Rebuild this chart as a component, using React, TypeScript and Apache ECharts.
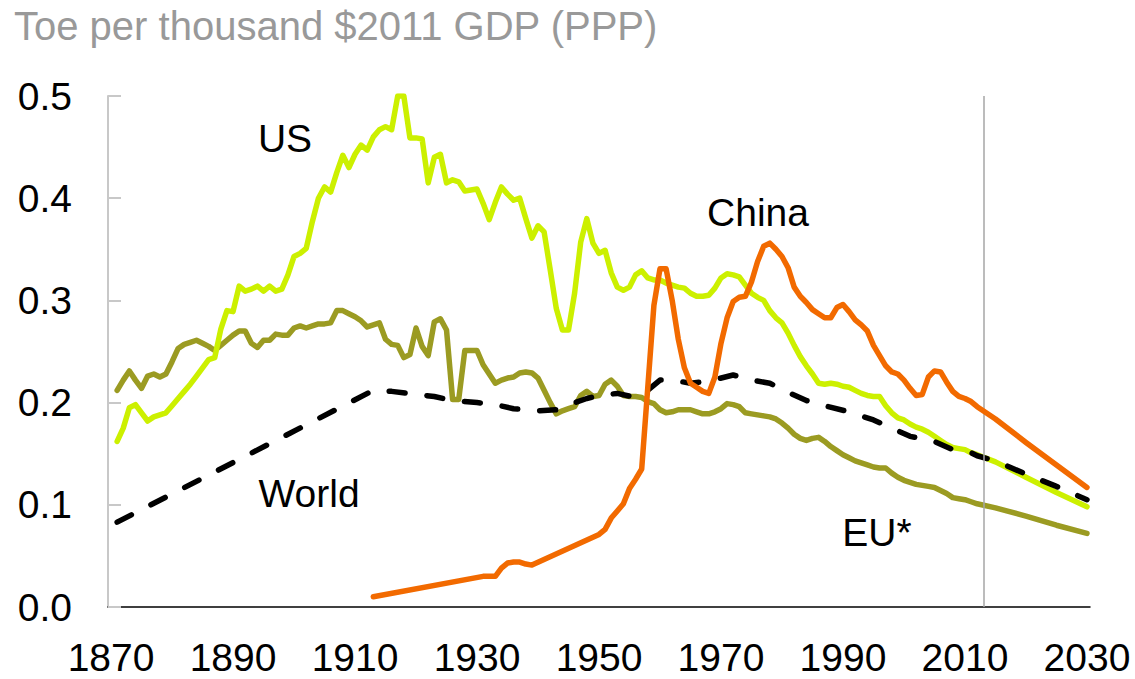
import React, { useEffect, useRef } from "react";
import * as echarts from "echarts";

const TITLE = "Toe per thousand $2011 GDP (PPP)";
const FIRST_YEAR = 1870;
const LAST_YEAR = 2030;
const YEARS: string[] = [];
for (let y = FIRST_YEAR; y <= LAST_YEAR; y++) YEARS.push(String(y));
const Y_TICKS = [0, 0.1, 0.2, 0.3, 0.4, 0.5];
const HISTORY_END = "2013";

const US: [number, number][] = [
  [1871, 0.162], [1872, 0.175], [1873, 0.195], [1874, 0.198], [1875, 0.19], [1876, 0.182], [1877, 0.186], [1878, 0.188], [1879, 0.19], [1880, 0.197],
  [1881, 0.204], [1882, 0.211], [1883, 0.218], [1884, 0.226], [1885, 0.234], [1886, 0.242], [1887, 0.244], [1888, 0.272], [1889, 0.29], [1890, 0.289],
  [1891, 0.314], [1892, 0.309], [1893, 0.311], [1894, 0.314], [1895, 0.309], [1896, 0.314], [1897, 0.309], [1898, 0.311], [1899, 0.325], [1900, 0.343],
  [1901, 0.346], [1902, 0.351], [1903, 0.377], [1904, 0.4], [1905, 0.411], [1906, 0.406], [1907, 0.425], [1908, 0.442], [1909, 0.43], [1910, 0.443],
  [1911, 0.452], [1912, 0.447], [1913, 0.46], [1914, 0.467], [1915, 0.47], [1916, 0.467], [1917, 0.5], [1918, 0.5], [1919, 0.459], [1920, 0.459],
  [1921, 0.458], [1922, 0.415], [1923, 0.44], [1924, 0.443], [1925, 0.415], [1926, 0.418], [1927, 0.416], [1928, 0.407], [1929, 0.408], [1930, 0.409],
  [1931, 0.395], [1932, 0.379], [1933, 0.396], [1934, 0.411], [1935, 0.404], [1936, 0.398], [1937, 0.4], [1938, 0.38], [1939, 0.361], [1940, 0.373],
  [1941, 0.367], [1942, 0.33], [1943, 0.292], [1944, 0.271], [1945, 0.271], [1946, 0.307], [1947, 0.357], [1948, 0.38], [1949, 0.356], [1950, 0.346],
  [1951, 0.349], [1952, 0.327], [1953, 0.313], [1954, 0.31], [1955, 0.313], [1956, 0.325], [1957, 0.329], [1958, 0.322], [1959, 0.32], [1960, 0.32],
  [1961, 0.317], [1962, 0.315], [1963, 0.313], [1964, 0.312], [1965, 0.307], [1966, 0.304], [1967, 0.304], [1968, 0.305], [1969, 0.312], [1970, 0.322],
  [1971, 0.326], [1972, 0.325], [1973, 0.323], [1974, 0.315], [1975, 0.307], [1976, 0.303], [1977, 0.3], [1978, 0.29], [1979, 0.283], [1980, 0.278],
  [1981, 0.268], [1982, 0.256], [1983, 0.245], [1984, 0.236], [1985, 0.228], [1986, 0.219], [1987, 0.218], [1988, 0.219], [1989, 0.218], [1990, 0.216],
  [1991, 0.215], [1992, 0.212], [1993, 0.209], [1994, 0.207], [1995, 0.206], [1996, 0.206], [1997, 0.197], [1998, 0.19], [1999, 0.185], [2000, 0.183],
  [2001, 0.179], [2002, 0.176], [2003, 0.174], [2004, 0.171], [2005, 0.167], [2006, 0.163], [2007, 0.159], [2008, 0.156], [2009, 0.155], [2010, 0.154],
  [2011, 0.151], [2012, 0.149], [2015, 0.142], [2020, 0.127], [2025, 0.112], [2030, 0.098],
];

const EU: [number, number][] = [
  [1871, 0.212], [1872, 0.222], [1873, 0.231], [1874, 0.222], [1875, 0.214], [1876, 0.226], [1877, 0.228], [1878, 0.225], [1879, 0.228], [1880, 0.24],
  [1881, 0.253], [1882, 0.257], [1883, 0.259], [1884, 0.261], [1885, 0.258], [1886, 0.255], [1887, 0.251], [1888, 0.256], [1889, 0.261], [1890, 0.266],
  [1891, 0.27], [1892, 0.27], [1893, 0.258], [1894, 0.254], [1895, 0.261], [1896, 0.261], [1897, 0.267], [1898, 0.266], [1899, 0.266], [1900, 0.273],
  [1901, 0.275], [1902, 0.273], [1903, 0.275], [1904, 0.277], [1905, 0.277], [1906, 0.278], [1907, 0.29], [1908, 0.29], [1909, 0.287], [1910, 0.284],
  [1911, 0.28], [1912, 0.274], [1913, 0.276], [1914, 0.278], [1915, 0.262], [1916, 0.257], [1917, 0.256], [1918, 0.244], [1919, 0.247], [1920, 0.273],
  [1921, 0.255], [1922, 0.246], [1923, 0.279], [1924, 0.282], [1925, 0.271], [1926, 0.203], [1927, 0.203], [1928, 0.251], [1929, 0.251], [1930, 0.251],
  [1931, 0.237], [1932, 0.228], [1933, 0.219], [1934, 0.222], [1935, 0.224], [1936, 0.225], [1937, 0.229], [1938, 0.23], [1939, 0.229], [1940, 0.224],
  [1941, 0.212], [1942, 0.2], [1943, 0.189], [1944, 0.192], [1945, 0.194], [1946, 0.196], [1947, 0.207], [1948, 0.211], [1949, 0.206], [1950, 0.207],
  [1951, 0.218], [1952, 0.222], [1953, 0.216], [1954, 0.207], [1955, 0.206], [1956, 0.206], [1957, 0.205], [1958, 0.201], [1959, 0.199], [1960, 0.193],
  [1961, 0.19], [1962, 0.191], [1963, 0.193], [1964, 0.193], [1965, 0.193], [1966, 0.191], [1967, 0.189], [1968, 0.189], [1969, 0.191], [1970, 0.194],
  [1971, 0.199], [1972, 0.198], [1973, 0.196], [1974, 0.19], [1975, 0.189], [1976, 0.188], [1977, 0.187], [1978, 0.186], [1979, 0.184], [1980, 0.18],
  [1981, 0.175], [1982, 0.169], [1983, 0.165], [1984, 0.163], [1985, 0.165], [1986, 0.166], [1987, 0.162], [1988, 0.157], [1989, 0.153], [1990, 0.149],
  [1991, 0.146], [1992, 0.143], [1993, 0.141], [1994, 0.139], [1995, 0.137], [1996, 0.136], [1997, 0.136], [1998, 0.131], [1999, 0.127], [2000, 0.124],
  [2001, 0.122], [2002, 0.12], [2003, 0.119], [2004, 0.118], [2005, 0.117], [2006, 0.114], [2007, 0.111], [2008, 0.107], [2009, 0.106], [2010, 0.105],
  [2011, 0.103], [2012, 0.101], [2015, 0.097], [2020, 0.089], [2025, 0.08], [2030, 0.072],
];

const WORLD: [number, number][] = [
  [1871, 0.083], [1913, 0.212], [1916, 0.211], [1920, 0.208], [1923, 0.206], [1926, 0.202], [1930, 0.2], [1933, 0.198], [1936, 0.194],
  [1940, 0.192], [1943, 0.193], [1946, 0.2], [1948, 0.204], [1950, 0.207], [1953, 0.209], [1956, 0.205], [1958, 0.212], [1960, 0.222],
  [1962, 0.222], [1965, 0.219], [1968, 0.221], [1972, 0.227], [1975, 0.222], [1978, 0.219], [1981, 0.21], [1984, 0.202], [1987, 0.197],
  [1991, 0.191], [1995, 0.183], [1998, 0.175], [2001, 0.167], [2005, 0.162], [2008, 0.154], [2011, 0.151], [2012, 0.148],
  [2015, 0.143], [2020, 0.13], [2025, 0.118], [2030, 0.105],
];

const CHINA: [number, number][] = [
  [1913, 0.01], [1931, 0.03], [1932, 0.03], [1933, 0.03], [1934, 0.038], [1935, 0.043], [1936, 0.044], [1937, 0.044], [1938, 0.042], [1939, 0.041],
  [1950, 0.071], [1951, 0.076], [1952, 0.087], [1953, 0.094], [1954, 0.101], [1955, 0.116], [1956, 0.125], [1957, 0.135], [1958, 0.215], [1959, 0.295],
  [1960, 0.331], [1961, 0.331], [1962, 0.3], [1963, 0.262], [1964, 0.234], [1965, 0.219], [1966, 0.215], [1967, 0.211], [1968, 0.209], [1969, 0.225],
  [1970, 0.258], [1971, 0.283], [1972, 0.299], [1973, 0.303], [1974, 0.304], [1975, 0.318], [1976, 0.338], [1977, 0.353], [1978, 0.356], [1979, 0.35],
  [1980, 0.343], [1981, 0.332], [1982, 0.313], [1983, 0.304], [1984, 0.298], [1985, 0.291], [1986, 0.287], [1987, 0.283], [1988, 0.283], [1989, 0.293],
  [1990, 0.296], [1991, 0.289], [1992, 0.281], [1993, 0.276], [1994, 0.27], [1995, 0.256], [1996, 0.246], [1997, 0.236], [1998, 0.23], [1999, 0.228],
  [2000, 0.222], [2001, 0.214], [2002, 0.207], [2003, 0.208], [2004, 0.225], [2005, 0.231], [2006, 0.23], [2007, 0.22], [2008, 0.211], [2009, 0.206],
  [2010, 0.204], [2011, 0.201], [2012, 0.196], [2015, 0.184], [2020, 0.161], [2025, 0.139], [2030, 0.117],
];

const LABELS = [
  { text: "US", x: 285, y: 138 },
  { text: "China", x: 758, y: 212 },
  { text: "World", x: 309, y: 493 },
  { text: "EU*", x: 877, y: 532 },
];

const FONT = "'Liberation Sans', Arial, sans-serif";
const LINE_W = 5.5;
const toData = (pts: [number, number][]) => pts.map(([y, v]) => [String(y), v]);

export default function App() {
  const ref = useRef<HTMLDivElement>(null);
  useEffect(() => {
    if (!ref.current) return;
    const chart = echarts.init(ref.current, undefined, { renderer: "svg" });
    const lineBase = { type: "line", showSymbol: false, symbol: "none", silent: true };
    chart.setOption({
      animation: false,
      backgroundColor: "#ffffff",
      title: {
        text: TITLE,
        left: 9,
        top: 1,
        textStyle: { fontSize: 40, color: "#999999", fontWeight: "normal", fontFamily: FONT },
      },
      grid: { left: 108, right: 45, top: 96, bottom: 72, containLabel: false },
      xAxis: {
        type: "category",
        data: YEARS,
        boundaryGap: true,
        axisLine: { show: true, lineStyle: { color: "#000000", width: 1.5 } },
        axisTick: { show: false },
        splitLine: { show: false },
        axisLabel: { interval: 19, fontSize: 39, color: "#000000", margin: 31, fontFamily: FONT },
      },
      yAxis: {
        type: "value",
        min: Y_TICKS[0],
        max: Y_TICKS[Y_TICKS.length - 1],
        interval: 0.1,
        axisLine: { show: true, lineStyle: { color: "#c8c8c8", width: 2 } },
        axisTick: { show: true, inside: true, length: 13, lineStyle: { color: "#c8c8c8", width: 2 } },
        splitLine: { show: false },
        axisLabel: {
          formatter: (v: number) => v.toFixed(1),
          fontSize: 39,
          color: "#000000",
          margin: 36,
          fontFamily: FONT,
        },
      },
      series: [
        {
          ...lineBase,
          name: "EU*",
          data: toData(EU),
          lineStyle: { color: "#9b9b22", width: LINE_W, cap: "round", join: "round" },
          z: 2,
          markLine: {
            silent: true,
            symbol: "none",
            label: { show: false },
            lineStyle: { color: "#a6a6a6", width: 1.5, type: "solid" },
            data: [{ xAxis: HISTORY_END }],
          },
        },
        {
          ...lineBase,
          name: "US",
          data: toData(US),
          lineStyle: { color: "#ccf000", width: LINE_W, cap: "round", join: "round" },
          z: 3,
        },
        {
          ...lineBase,
          name: "World",
          data: toData(WORLD),
          lineStyle: { color: "#000000", width: LINE_W, type: [16, 22], cap: "round", join: "round" },
          z: 4,
        },
        {
          ...lineBase,
          name: "China",
          data: toData(CHINA),
          lineStyle: { color: "#f26a00", width: LINE_W, cap: "round", join: "round" },
          z: 5,
        },
      ],
      graphic: LABELS.map((l) => ({
        type: "text",
        x: l.x,
        y: l.y,
        silent: true,
        style: {
          text: l.text,
          fontSize: 39,
          fontFamily: FONT,
          fill: "#000000",
          textAlign: "center",
          textVerticalAlign: "middle",
        },
      })),
    });
    return () => chart.dispose();
  }, []);
  return <div ref={ref} style={{ position: "absolute", left: 0, top: 0, width: 1135, height: 679 }} />;
}
